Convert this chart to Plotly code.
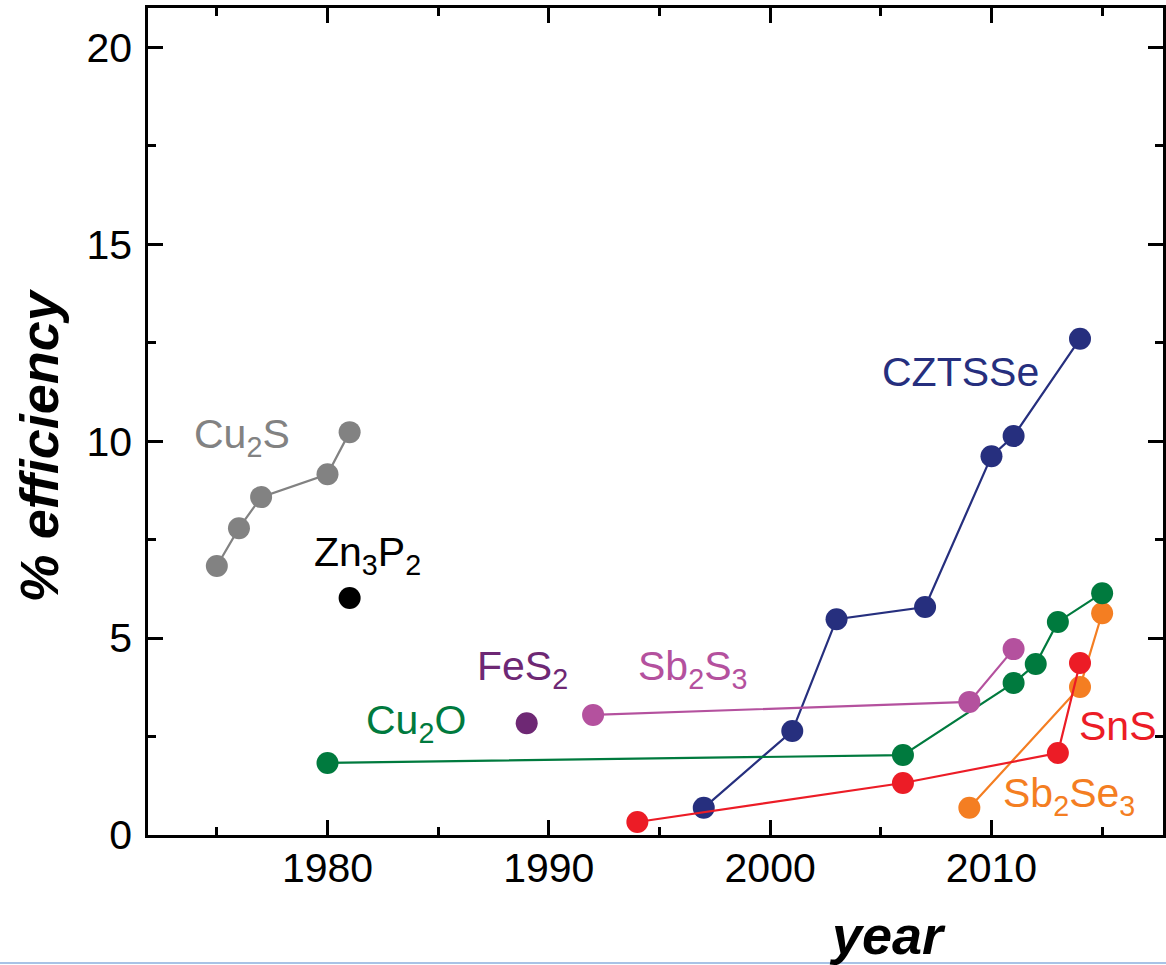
import plotly.graph_objects as go

# ---- data (year, % efficiency) ----
cztsse_year = [1997, 2001, 2003, 2007, 2010, 2011, 2014]
cztsse_eff = [0.69, 2.64, 5.48, 5.79, 9.62, 10.13, 12.6]

cu2s_year = [1975, 1976, 1977, 1980, 1981]
cu2s_eff = [6.83, 7.79, 8.58, 9.16, 10.23]

zn3p2_year = [1981]
zn3p2_eff = [6.02]

fes2_year = [1989]
fes2_eff = [2.84]

sb2s3_year = [1992, 2009, 2011]
sb2s3_eff = [3.05, 3.38, 4.72]

cu2o_year = [1980, 2006, 2011, 2012, 2013, 2015]
cu2o_eff = [1.83, 2.03, 3.86, 4.34, 5.41, 6.14]

sns_year = [1994, 2006, 2013, 2014]
sns_eff = [0.33, 1.32, 2.08, 4.37]

sb2se3_year = [2009, 2014, 2015]
sb2se3_eff = [0.69, 3.76, 5.63]

x_ticks = [1980, 1990, 2000, 2010]
y_ticks = [0, 5, 10, 15, 20]

# ---- styles ----
C_NAVY = "#262F7E"
C_GREY = "#828282"
C_BLACK = "#000000"
C_PURPLE = "#6E2874"
C_PINK = "#B4519E"
C_GREEN = "#007A3E"
C_RED = "#EC1C26"
C_ORANGE = "#F47E22"

FONT = "Liberation Sans, Arial, Helvetica, sans-serif"
MS = 22
LW = 2.2

fig = go.Figure()


def add(xs, ys, color, mode="lines+markers"):
    fig.add_trace(go.Scatter(
        x=xs, y=ys, mode=mode,
        line=dict(color=color, width=LW),
        marker=dict(color=color, size=MS, line=dict(width=0)),
        showlegend=False, hoverinfo="x+y",
    ))


add(cu2s_year, cu2s_eff, C_GREY)
add(zn3p2_year, zn3p2_eff, C_BLACK, mode="markers")
add(fes2_year, fes2_eff, C_PURPLE, mode="markers")
add(cztsse_year, cztsse_eff, C_NAVY)
add(sb2se3_year, sb2se3_eff, C_ORANGE)
add(sns_year, sns_eff, C_RED)
add(cu2o_year, cu2o_eff, C_GREEN)
add(sb2s3_year, sb2s3_eff, C_PINK)

# ---- labels ----
labels = [
    ("Cu<sub>2</sub>S", 1973.87, 10.11, C_GREY),
    ("Zn<sub>3</sub>P<sub>2</sub>", 1979.28, 7.11, C_BLACK),
    ("CZTSSe", 2004.95, 11.76, C_NAVY),
    ("FeS<sub>2</sub>", 1986.67, 4.22, C_PURPLE),
    ("Sb<sub>2</sub>S<sub>3</sub>", 1993.96, 4.22, C_PINK),
    ("Cu<sub>2</sub>O", 1981.67, 2.84, C_GREEN),
    ("SnS", 2013.87, 2.77, C_RED),
    ("Sb<sub>2</sub>Se<sub>3</sub>", 2010.41, 0.99, C_ORANGE),
]
for txt, lx, ly, col in labels:
    fig.add_annotation(
        x=lx, y=ly, xref="x", yref="y", text=txt, showarrow=False,
        xanchor="left", yanchor="middle",
        font=dict(family=FONT, size=41, color=col),
    )

# axis titles
fig.add_annotation(
    x=-0.107, y=0.4716, xref="paper", yref="paper", text="% efficiency",
    textangle=-90, showarrow=False, xanchor="center", yanchor="middle",
    font=dict(family=FONT, size=54, color="black", weight="bold", style="italic"),
)
fig.add_annotation(
    x=0.729, y=-0.082, xref="paper", yref="paper", text="year",
    showarrow=False, xanchor="center", yanchor="top",
    font=dict(family=FONT, size=54, color="black", weight="bold", style="italic"),
)

# light blue border line at the very bottom
fig.add_shape(type="line", xref="paper", yref="paper", x0=-0.2, x1=1.1,
              y0=-0.1548, y1=-0.1548, line=dict(color="#A8C3E6", width=2))

axis_common = dict(
    showline=True, linecolor="black", linewidth=2.5, mirror="ticks",
    ticks="inside", ticklen=15, tickwidth=2.5, tickcolor="black",
    showgrid=False, zeroline=False,
    tickfont=dict(family=FONT, size=41, color="black"),
)

fig.update_xaxes(
    range=[1971.89, 2017.75], tickvals=x_ticks, ticklabelstandoff=-5,
    minor=dict(dtick=5, tick0=1975, ticks="inside", ticklen=8, tickwidth=2.5, tickcolor="black"),
    **axis_common,
)
fig.update_yaxes(
    range=[0, 21], tickvals=y_ticks, ticklabelstandoff=5,
    minor=dict(dtick=2.5, tick0=0, ticks="inside", ticklen=8, tickwidth=2.5, tickcolor="black"),
    **axis_common,
)

fig.update_layout(
    width=1166, height=965,
    margin=dict(l=148, r=0, t=8, b=130),
    paper_bgcolor="white", plot_bgcolor="white",
)

# remove the default 8px page margin so the figure fills the window exactly
fig.write_html(
    "out.html",
    config={"displayModeBar": False},
    post_script="document.body.style.margin='0';document.body.style.overflow='hidden';",
)
